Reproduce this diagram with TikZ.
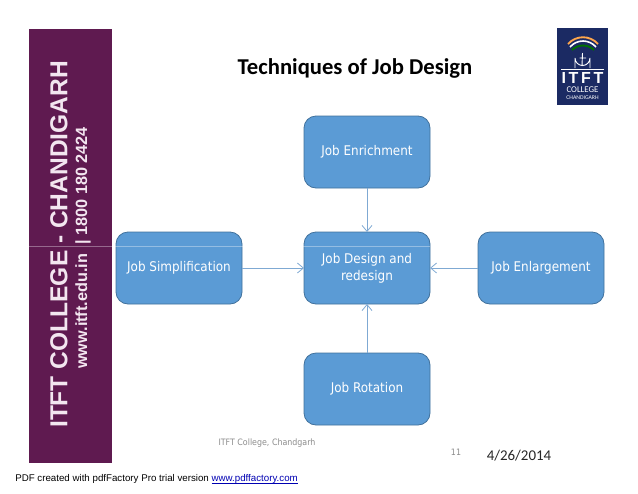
\documentclass[tikz,border=0pt]{standalone}
\usepackage{fontspec}
\setmainfont{Carlito}
\newfontfamily\boxfont{DejaVu Sans Condensed}
\newfontfamily\arialfont{Liberation Sans}
\usetikzlibrary{positioning}
\usetikzlibrary{arrows.meta}
\definecolor{boxblue}{HTML}{5B9BD5}
\definecolor{boxedge}{HTML}{41719C}
\definecolor{linkblue}{HTML}{7FA9D3}
\definecolor{bandpurple}{HTML}{5F1A50}
\definecolor{bandtext}{HTML}{F3E6F0}
\definecolor{logonavy}{HTML}{1B2A63}
\tikzset{
    jobbox/.style={draw=boxedge, line width=0.6pt, fill=boxblue, rounded corners=9pt, text=white,
        minimum width=94.5pt, minimum height=54pt, outer sep=0pt, align=center,
        font=\boxfont\fontsize{10}{13}\selectfont},
    jobarrow/.style={-{Straight Barb[length=4.5pt, width=7.5pt]}, draw=linkblue, line width=0.6pt},
}

\begin{document}
\begin{tikzpicture}[x=0.75pt, y=-0.75pt]
    \useasboundingbox (0,0) rectangle (638,493);

    % side band
    \node [fill=bandpurple, minimum width=62.25pt, minimum height=325.5pt, inner sep=0pt, outer sep=0pt] (band) at (70.5,246) {};
    \node [rotate=90, text=bandtext, font=\arialfont\bfseries\fontsize{18.4}{20}\selectfont] (bandtitle) at (59,244.5) {ITFT COLLEGE - CHANDIGARH};
    \node [rotate=90, text=bandtext, font=\arialfont\bfseries\fontsize{12.2}{14}\selectfont] (bandweb) at (83,248) {www.itft.edu.in\ \ |\ 1800 180 2424};

    % boxes
    \node [jobbox] (design) at (367,268) {Job Design and\\redesign};
    \node [jobbox, above=33pt of design] (enrichment) {Job Enrichment};
    \node [jobbox, below=36.75pt of design] (rotation) {Job Rotation};
    \node [jobbox, left=46.5pt of design] (simplification) {Job Simplification};
    \node [jobbox, right=36pt of design] (enlargement) {Job Enlargement};

    \draw [jobarrow] (enrichment) -- (design);
    \draw [jobarrow] (rotation) -- (design);
    \draw [jobarrow] (simplification) -- (design);
    \draw [jobarrow] (enlargement) -- (design);

    % faint rule over the band and boxes
    \coordinate (rulestart) at (29,246);
    \coordinate (ruleend) at (430,246);
    \draw [white, opacity=0.35, line width=0.5pt] (rulestart) -- (ruleend);

    % texts
    \node [font=\bfseries\fontsize{17}{20}\selectfont, text=black] (title) at (355,68) {Techniques of Job Design};
    \node [text=black!45, font=\boxfont\fontsize{6.6}{8}\selectfont] (college) at (267,443.5) {ITFT College, Chandgarh};
    \node [text=black!45, font=\boxfont\fontsize{6.6}{8}\selectfont] (pagenum) at (456,452) {11};
    \node [text=black!85, font=\fontsize{11.2}{14}\selectfont] (date) at (519,456) {4/26/2014};
    \node [anchor=west, inner sep=0pt, font=\arialfont\fontsize{7.3}{9}\selectfont] (pdfnote) at (15,479) {PDF created with pdfFactory Pro trial version \textcolor{blue!70!black}{\underline{\smash{www.pdffactory.com}}}};

    % logo
    \node [fill=logonavy, minimum width=38.25pt, minimum height=57.75pt, inner sep=0pt, outer sep=0pt] (logo) at (582.5,66.5) {};
    \draw [orange!70!white, line width=1.4pt] (568,44) .. controls (576,35) and (590,35) .. (598,44);
    \draw [white, line width=1.2pt] (570,47) .. controls (577,39) and (589,39) .. (596,47);
    \draw [green!45!black, line width=1.4pt] (572,50) .. controls (578,44) and (588,44) .. (594,50);
    \draw [white, line width=0.7pt] (575,68) -- (575,58) arc [start angle=180, end angle=0, x radius=7.5, y radius=7.5] -- (590,68);
    \draw [white, line width=0.7pt] (582.5,53) -- (582,66) (579.5,58) -- (586,58);
    \draw [white, line width=0.9pt] (561,69.5) -- (604,69.5);
    \node [text=white, inner sep=0pt, font=\arialfont\bfseries\fontsize{12}{14}\selectfont] (logoname) at (582.5,78) {I\,T\,F\,T};
    \node [text=white, inner sep=0pt, font=\rmfamily\fontsize{6.6}{8}\selectfont] (logocollege) at (582.5,90) {COLLEGE};
    \node [text=white, inner sep=0pt, font=\rmfamily\fontsize{4.3}{6}\selectfont] (logocity) at (582.5,97.5) {CHANDIGARH};
\end{tikzpicture}
\end{document}
